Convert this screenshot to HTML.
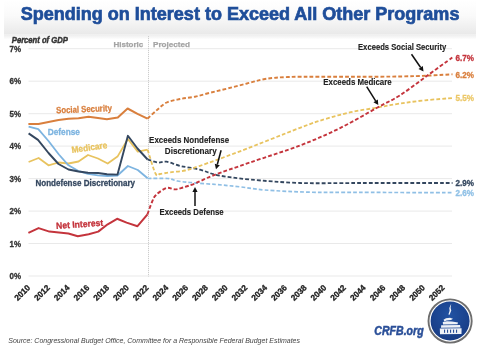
<!DOCTYPE html>
<html><head><meta charset="utf-8"><style>
html,body{margin:0;padding:0;width:480px;height:355px;overflow:hidden;background:#fff}
svg text{font-family:"Liberation Sans",sans-serif}
</style></head><body>
<svg width="480" height="355" viewBox="0 0 480 355" style="position:absolute;left:0;top:0;filter:blur(0.4px)">
<defs>
<linearGradient id="tb" x1="0" y1="0" x2="0" y2="1">
<stop offset="0" stop-color="#ffffff"/><stop offset="0.45" stop-color="#fafafa"/><stop offset="1" stop-color="#e9e9e9"/>
</linearGradient>
<linearGradient id="sh" x1="0" y1="0" x2="0" y2="1">
<stop offset="0" stop-color="#ededed"/><stop offset="1" stop-color="#ffffff"/>
</linearGradient>
<radialGradient id="seal" cx="0.5" cy="0.35" r="0.7">
<stop offset="0" stop-color="#2252a2"/><stop offset="1" stop-color="#173a82"/>
</radialGradient>
</defs>
<rect x="0" y="0" width="480" height="355" fill="#fff"/>
<rect x="4" y="0" width="472" height="34.5" fill="url(#tb)"/>
<rect x="4" y="34.5" width="472" height="5" fill="url(#sh)"/>
<text x="20.8" y="19.8" font-size="18.4" font-weight="bold" font-style="normal" fill="#1f4e9a" text-anchor="start" textLength="438.6" lengthAdjust="spacingAndGlyphs" stroke="#1f4e9a" stroke-width="0.7">Spending on Interest to Exceed All Other Programs</text>
<line x1="28.5" y1="276.0" x2="452" y2="276.0" stroke="#e9e9e9" stroke-width="1"/><line x1="28.5" y1="243.5" x2="452" y2="243.5" stroke="#e9e9e9" stroke-width="1"/><line x1="28.5" y1="211.1" x2="452" y2="211.1" stroke="#e9e9e9" stroke-width="1"/><line x1="28.5" y1="178.6" x2="452" y2="178.6" stroke="#e9e9e9" stroke-width="1"/><line x1="28.5" y1="146.1" x2="452" y2="146.1" stroke="#e9e9e9" stroke-width="1"/><line x1="28.5" y1="113.7" x2="452" y2="113.7" stroke="#e9e9e9" stroke-width="1"/><line x1="28.5" y1="81.2" x2="452" y2="81.2" stroke="#e9e9e9" stroke-width="1"/><line x1="28.5" y1="48.7" x2="452" y2="48.7" stroke="#e9e9e9" stroke-width="1"/>
<line x1="148.5" y1="36" x2="148.5" y2="276.5" stroke="#cdcdcd" stroke-width="1" stroke-dasharray="1.2 0.8"/>
<text x="11.8" y="42.6" font-size="8.6" font-weight="bold" font-style="italic" fill="#333" text-anchor="start" textLength="56" lengthAdjust="spacingAndGlyphs" stroke="#333" stroke-width="0.45">Percent of GDP</text>
<text x="21" y="279.0" text-anchor="end" font-size="8.8" font-weight="bold" fill="#333" stroke="#333" stroke-width="0.3" textLength="11.5" lengthAdjust="spacingAndGlyphs">0%</text><text x="21" y="246.5" text-anchor="end" font-size="8.8" font-weight="bold" fill="#333" stroke="#333" stroke-width="0.3" textLength="11.5" lengthAdjust="spacingAndGlyphs">1%</text><text x="21" y="214.1" text-anchor="end" font-size="8.8" font-weight="bold" fill="#333" stroke="#333" stroke-width="0.3" textLength="11.5" lengthAdjust="spacingAndGlyphs">2%</text><text x="21" y="181.6" text-anchor="end" font-size="8.8" font-weight="bold" fill="#333" stroke="#333" stroke-width="0.3" textLength="11.5" lengthAdjust="spacingAndGlyphs">3%</text><text x="21" y="149.1" text-anchor="end" font-size="8.8" font-weight="bold" fill="#333" stroke="#333" stroke-width="0.3" textLength="11.5" lengthAdjust="spacingAndGlyphs">4%</text><text x="21" y="116.7" text-anchor="end" font-size="8.8" font-weight="bold" fill="#333" stroke="#333" stroke-width="0.3" textLength="11.5" lengthAdjust="spacingAndGlyphs">5%</text><text x="21" y="84.2" text-anchor="end" font-size="8.8" font-weight="bold" fill="#333" stroke="#333" stroke-width="0.3" textLength="11.5" lengthAdjust="spacingAndGlyphs">6%</text><text x="21" y="51.7" text-anchor="end" font-size="8.8" font-weight="bold" fill="#333" stroke="#333" stroke-width="0.3" textLength="11.5" lengthAdjust="spacingAndGlyphs">7%</text>
<text x="113.5" y="46.8" font-size="8" font-weight="bold" font-style="normal" fill="#a4a4a4" text-anchor="start" textLength="29.8" lengthAdjust="spacingAndGlyphs" stroke="#a4a4a4" stroke-width="0.25">Historic</text>
<text x="153" y="46.8" font-size="8" font-weight="bold" font-style="normal" fill="#a4a4a4" text-anchor="start" textLength="37" lengthAdjust="spacingAndGlyphs" stroke="#a4a4a4" stroke-width="0.25">Projected</text>
<text transform="translate(22.45,292.90) rotate(-45)" x="0" y="2.6" text-anchor="middle" font-size="8.3" font-weight="bold" fill="#222" stroke="#222" stroke-width="0.3" textLength="18.3" lengthAdjust="spacingAndGlyphs">2010</text><text transform="translate(42.19,292.90) rotate(-45)" x="0" y="2.6" text-anchor="middle" font-size="8.3" font-weight="bold" fill="#222" stroke="#222" stroke-width="0.3" textLength="18.3" lengthAdjust="spacingAndGlyphs">2012</text><text transform="translate(61.93,292.90) rotate(-45)" x="0" y="2.6" text-anchor="middle" font-size="8.3" font-weight="bold" fill="#222" stroke="#222" stroke-width="0.3" textLength="18.3" lengthAdjust="spacingAndGlyphs">2014</text><text transform="translate(81.67,292.90) rotate(-45)" x="0" y="2.6" text-anchor="middle" font-size="8.3" font-weight="bold" fill="#222" stroke="#222" stroke-width="0.3" textLength="18.3" lengthAdjust="spacingAndGlyphs">2016</text><text transform="translate(101.41,292.90) rotate(-45)" x="0" y="2.6" text-anchor="middle" font-size="8.3" font-weight="bold" fill="#222" stroke="#222" stroke-width="0.3" textLength="18.3" lengthAdjust="spacingAndGlyphs">2018</text><text transform="translate(121.15,292.90) rotate(-45)" x="0" y="2.6" text-anchor="middle" font-size="8.3" font-weight="bold" fill="#222" stroke="#222" stroke-width="0.3" textLength="18.3" lengthAdjust="spacingAndGlyphs">2020</text><text transform="translate(140.89,292.90) rotate(-45)" x="0" y="2.6" text-anchor="middle" font-size="8.3" font-weight="bold" fill="#222" stroke="#222" stroke-width="0.3" textLength="18.3" lengthAdjust="spacingAndGlyphs">2022</text><text transform="translate(160.63,292.90) rotate(-45)" x="0" y="2.6" text-anchor="middle" font-size="8.3" font-weight="bold" fill="#222" stroke="#222" stroke-width="0.3" textLength="18.3" lengthAdjust="spacingAndGlyphs">2024</text><text transform="translate(180.37,292.90) rotate(-45)" x="0" y="2.6" text-anchor="middle" font-size="8.3" font-weight="bold" fill="#222" stroke="#222" stroke-width="0.3" textLength="18.3" lengthAdjust="spacingAndGlyphs">2026</text><text transform="translate(200.11,292.90) rotate(-45)" x="0" y="2.6" text-anchor="middle" font-size="8.3" font-weight="bold" fill="#222" stroke="#222" stroke-width="0.3" textLength="18.3" lengthAdjust="spacingAndGlyphs">2028</text><text transform="translate(219.85,292.90) rotate(-45)" x="0" y="2.6" text-anchor="middle" font-size="8.3" font-weight="bold" fill="#222" stroke="#222" stroke-width="0.3" textLength="18.3" lengthAdjust="spacingAndGlyphs">2030</text><text transform="translate(239.59,292.90) rotate(-45)" x="0" y="2.6" text-anchor="middle" font-size="8.3" font-weight="bold" fill="#222" stroke="#222" stroke-width="0.3" textLength="18.3" lengthAdjust="spacingAndGlyphs">2032</text><text transform="translate(259.33,292.90) rotate(-45)" x="0" y="2.6" text-anchor="middle" font-size="8.3" font-weight="bold" fill="#222" stroke="#222" stroke-width="0.3" textLength="18.3" lengthAdjust="spacingAndGlyphs">2034</text><text transform="translate(279.07,292.90) rotate(-45)" x="0" y="2.6" text-anchor="middle" font-size="8.3" font-weight="bold" fill="#222" stroke="#222" stroke-width="0.3" textLength="18.3" lengthAdjust="spacingAndGlyphs">2036</text><text transform="translate(298.81,292.90) rotate(-45)" x="0" y="2.6" text-anchor="middle" font-size="8.3" font-weight="bold" fill="#222" stroke="#222" stroke-width="0.3" textLength="18.3" lengthAdjust="spacingAndGlyphs">2038</text><text transform="translate(318.55,292.90) rotate(-45)" x="0" y="2.6" text-anchor="middle" font-size="8.3" font-weight="bold" fill="#222" stroke="#222" stroke-width="0.3" textLength="18.3" lengthAdjust="spacingAndGlyphs">2040</text><text transform="translate(338.29,292.90) rotate(-45)" x="0" y="2.6" text-anchor="middle" font-size="8.3" font-weight="bold" fill="#222" stroke="#222" stroke-width="0.3" textLength="18.3" lengthAdjust="spacingAndGlyphs">2042</text><text transform="translate(358.03,292.90) rotate(-45)" x="0" y="2.6" text-anchor="middle" font-size="8.3" font-weight="bold" fill="#222" stroke="#222" stroke-width="0.3" textLength="18.3" lengthAdjust="spacingAndGlyphs">2044</text><text transform="translate(377.77,292.90) rotate(-45)" x="0" y="2.6" text-anchor="middle" font-size="8.3" font-weight="bold" fill="#222" stroke="#222" stroke-width="0.3" textLength="18.3" lengthAdjust="spacingAndGlyphs">2046</text><text transform="translate(397.51,292.90) rotate(-45)" x="0" y="2.6" text-anchor="middle" font-size="8.3" font-weight="bold" fill="#222" stroke="#222" stroke-width="0.3" textLength="18.3" lengthAdjust="spacingAndGlyphs">2048</text><text transform="translate(417.25,292.90) rotate(-45)" x="0" y="2.6" text-anchor="middle" font-size="8.3" font-weight="bold" fill="#222" stroke="#222" stroke-width="0.3" textLength="18.3" lengthAdjust="spacingAndGlyphs">2050</text><text transform="translate(436.99,292.90) rotate(-45)" x="0" y="2.6" text-anchor="middle" font-size="8.3" font-weight="bold" fill="#222" stroke="#222" stroke-width="0.3" textLength="18.3" lengthAdjust="spacingAndGlyphs">2052</text>
<g fill="none" stroke-linejoin="round" stroke-linecap="butt">
<path d="M28.6,162.0 L38.6,158.0 L48.5,165.3 L58.5,162.5 L68.5,163.5 L78.5,161.5 L88.0,155.0 L98.0,158.5 L107.7,163.5 L117.5,156.6 L127.9,139.0 L137.8,151.6 L147.6,149.7" stroke="#e8c35f" stroke-width="1.8"/>
<path d="M28.6,126.6 L38.3,129.2 L48.5,141.0 L58.9,154.5 L68.5,165.3 L78.0,170.8 L88.0,173.8 L98.0,175.3 L107.5,176.0 L117.5,175.5 L127.9,166.0 L137.8,170.0 L147.6,178.3" stroke="#7db4e0" stroke-width="1.8"/>
<path d="M28.6,133.4 L38.0,139.9 L48.5,153.0 L58.5,164.0 L68.5,169.5 L78.5,171.5 L88.0,172.8 L98.0,173.0 L107.0,174.2 L117.5,174.6 L127.9,135.8 L137.5,148.5 L147.6,159.5" stroke="#34475f" stroke-width="1.9"/>
<path d="M28.4,124.0 L38.5,124.0 L48.5,122.0 L58.5,120.0 L68.5,118.8 L78.5,118.3 L88.6,116.8 L98.0,118.0 L106.9,119.2 L117.8,117.5 L127.6,108.5 L137.5,113.9 L147.5,118.7" stroke="#d97f3d" stroke-width="2"/>
<path d="M28.4,232.9 L38.6,228.1 L49.4,231.6 L58.9,232.6 L68.4,233.5 L77.8,236.2 L88.7,234.3 L98.2,231.6 L107.7,224.3 L117.1,218.8 L126.6,222.6 L137.5,226.2 L147.5,214.3" stroke="#c4343c" stroke-width="2"/>
<path d="M147.6,178.5 C150.9,178.5 162.5,178.1 167.5,178.5 C172.5,178.9 173.8,180.3 177.5,181.0 C181.2,181.7 183.6,181.9 190.0,182.5 C196.4,183.1 207.7,183.8 216.0,184.5 C224.3,185.2 231.8,185.9 240.0,186.8 C248.2,187.7 253.3,189.1 265.0,190.0 C276.7,190.9 294.2,191.8 310.0,192.2 C325.8,192.6 336.2,192.3 360.0,192.4 C383.8,192.5 437.1,192.6 452.5,192.6" stroke="#8fbfe5" stroke-width="1.7" stroke-dasharray="3.8 2.1"/>
<path d="M147.6,159.5 C149.3,160.0 154.5,162.1 157.7,162.5 C160.9,162.9 162.8,161.1 166.6,161.7 C170.4,162.3 174.9,164.7 180.5,166.0 C186.1,167.3 193.8,168.1 200.0,169.7 C206.2,171.2 209.7,173.7 218.0,175.3 C226.3,176.9 236.3,178.2 250.0,179.5 C263.7,180.8 281.7,182.4 300.0,183.0 C318.3,183.6 334.6,183.0 360.0,183.0 C385.4,183.0 437.1,183.0 452.5,183.0" stroke="#34475f" stroke-width="1.8" stroke-dasharray="3.8 2.1"/>
<path d="M147.6,149.7 C148.9,153.7 153.4,169.4 155.5,173.5 C157.6,177.6 157.6,174.2 160.0,174.0 C162.4,173.8 165.8,172.9 170.0,172.3 C174.2,171.7 180.0,171.6 185.0,170.5 C190.0,169.4 190.8,169.0 200.0,165.8 C209.2,162.6 223.3,157.6 240.0,151.3 C256.7,145.0 285.8,133.2 300.0,127.8 C314.2,122.4 316.9,121.6 325.4,119.0 C333.9,116.4 342.1,114.1 350.8,112.2 C359.5,110.3 369.3,109.0 377.5,107.5 C385.7,106.0 392.1,104.7 400.0,103.5 C407.9,102.3 416.2,101.2 425.0,100.3 C433.8,99.4 447.9,98.4 452.5,98.0" stroke="#e8c35f" stroke-width="1.8" stroke-dasharray="3.8 2.1"/>
<path d="M147.5,118.7 C149.1,117.2 153.8,112.7 157.0,110.0 C160.2,107.3 162.9,104.3 166.7,102.5 C170.5,100.7 175.3,100.0 180.0,99.0 C184.7,98.0 189.8,97.8 195.0,96.7 C200.2,95.6 205.4,93.9 211.0,92.5 C216.6,91.1 222.3,89.8 228.3,88.3 C234.3,86.8 240.9,85.0 247.0,83.5 C253.1,82.0 258.2,80.1 265.0,79.0 C271.8,77.9 278.8,77.4 288.0,77.0 C297.2,76.6 308.0,76.8 320.0,76.7 C332.0,76.7 346.7,76.7 360.0,76.7 C373.3,76.7 388.3,76.7 400.0,76.5 C411.7,76.3 421.2,75.9 430.0,75.5 C438.8,75.1 448.8,74.5 452.5,74.3" stroke="#d97f3d" stroke-width="1.9" stroke-dasharray="3.8 2.1"/>
<path d="M147.5,214.3 C148.2,212.2 150.6,205.2 152.0,202.0 C153.4,198.8 153.6,197.3 156.0,195.0 C158.4,192.7 163.3,188.9 166.5,188.0 C169.7,187.1 172.2,189.5 175.0,189.4 C177.8,189.3 179.7,188.5 183.0,187.5 C186.3,186.5 189.9,185.5 195.0,183.5 C200.1,181.5 204.3,178.8 213.5,175.3 C222.7,171.8 235.6,167.5 250.0,162.5 C264.4,157.5 285.0,151.2 300.0,145.5 C315.0,139.8 327.1,134.4 340.0,128.1 C352.9,121.8 367.5,113.0 377.5,107.5 C387.5,102.0 391.9,100.5 400.0,95.3 C408.1,90.1 417.3,82.9 426.0,76.6 C434.7,70.3 447.9,60.7 452.3,57.5" stroke="#c4343c" stroke-width="1.9" stroke-dasharray="3.8 2.1"/>
</g>
<text x="56.3" y="113.3" font-size="9" font-weight="bold" font-style="normal" fill="#d97f3d" text-anchor="start" textLength="55.7" lengthAdjust="spacingAndGlyphs" transform="rotate(-2.3 56.3 113.3)" stroke="#d97f3d" stroke-width="0.3">Social Security</text>
<text x="47.7" y="134.8" font-size="9" font-weight="bold" font-style="normal" fill="#7db4e0" text-anchor="start" textLength="32.3" lengthAdjust="spacingAndGlyphs" stroke="#7db4e0" stroke-width="0.3">Defense</text>
<text x="72" y="153" font-size="9" font-weight="bold" font-style="normal" fill="#e8c35f" text-anchor="start" textLength="36" lengthAdjust="spacingAndGlyphs" transform="rotate(-8 72 153)" stroke="#e8c35f" stroke-width="0.3">Medicare</text>
<text x="35.5" y="185.6" font-size="9" font-weight="bold" font-style="normal" fill="#34475f" text-anchor="start" textLength="99.5" lengthAdjust="spacingAndGlyphs" stroke="#34475f" stroke-width="0.3">Nondefense Discretionary</text>
<text x="56.2" y="229" font-size="9" font-weight="bold" font-style="normal" fill="#c4343c" text-anchor="start" textLength="47.4" lengthAdjust="spacingAndGlyphs" transform="rotate(-4 56.2 229)" stroke="#c4343c" stroke-width="0.3">Net Interest</text>
<text x="358" y="50.2" font-size="8.6" font-weight="bold" font-style="normal" fill="#222" text-anchor="start" textLength="88.2" lengthAdjust="spacingAndGlyphs" stroke="#222" stroke-width="0.12">Exceeds Social Security</text>
<line x1="411.5" y1="54.2" x2="420.66" y2="67.48" stroke="#111" stroke-width="1.5"/><polygon points="423.5,71.6 418.52,68.96 422.80,66.01" fill="#111"/>
<text x="323.3" y="85.2" font-size="8.6" font-weight="bold" font-style="normal" fill="#222" text-anchor="start" textLength="68.4" lengthAdjust="spacingAndGlyphs" stroke="#222" stroke-width="0.12">Exceeds Medicare</text>
<line x1="366.7" y1="86.7" x2="375.62" y2="100.78" stroke="#111" stroke-width="1.5"/><polygon points="378.3,105 373.43,102.17 377.82,99.38" fill="#111"/>
<text x="189.1" y="143.2" font-size="8.6" font-weight="bold" font-style="normal" fill="#222" text-anchor="middle" textLength="80" lengthAdjust="spacingAndGlyphs" stroke="#222" stroke-width="0.12">Exceeds Nondefense</text>
<text x="190.8" y="153.8" font-size="8.6" font-weight="bold" font-style="normal" fill="#222" text-anchor="middle" textLength="52" lengthAdjust="spacingAndGlyphs" stroke="#222" stroke-width="0.12">Discretionary</text>
<line x1="221.1" y1="150.3" x2="217.30" y2="164.47" stroke="#111" stroke-width="1.5"/><polygon points="216,169.3 214.79,163.80 219.81,165.14" fill="#111"/>
<text x="159.5" y="214.6" font-size="8.6" font-weight="bold" font-style="normal" fill="#222" text-anchor="start" textLength="64.2" lengthAdjust="spacingAndGlyphs" stroke="#222" stroke-width="0.12">Exceeds Defense</text>
<line x1="195" y1="206" x2="195.00" y2="192.10" stroke="#111" stroke-width="1.5"/><polygon points="195,187.1 197.60,192.10 192.40,192.10" fill="#111"/>
<text x="455.5" y="60.5" font-size="9" font-weight="bold" font-style="normal" fill="#c4343c" text-anchor="start" textLength="18.5" lengthAdjust="spacingAndGlyphs" stroke="#c4343c" stroke-width="0.3">6.7%</text>
<text x="455.5" y="78" font-size="9" font-weight="bold" font-style="normal" fill="#d97f3d" text-anchor="start" textLength="18.5" lengthAdjust="spacingAndGlyphs" stroke="#d97f3d" stroke-width="0.3">6.2%</text>
<text x="455.5" y="101" font-size="9" font-weight="bold" font-style="normal" fill="#ecc868" text-anchor="start" textLength="18.5" lengthAdjust="spacingAndGlyphs" stroke="#ecc868" stroke-width="0.3">5.5%</text>
<text x="455.5" y="186" font-size="9" font-weight="bold" font-style="normal" fill="#34475f" text-anchor="start" textLength="18.5" lengthAdjust="spacingAndGlyphs" stroke="#34475f" stroke-width="0.3">2.9%</text>
<text x="455.5" y="195.5" font-size="9" font-weight="bold" font-style="normal" fill="#8fc0e6" text-anchor="start" textLength="18.5" lengthAdjust="spacingAndGlyphs" stroke="#8fc0e6" stroke-width="0.3">2.6%</text>
<text x="8.3" y="342.5" font-size="7.2" font-weight="normal" font-style="italic" fill="#444" text-anchor="start" textLength="291.7" lengthAdjust="spacingAndGlyphs">Source: Congressional Budget Office, Committee for a Responsible Federal Budget Estimates</text>
<text x="374.3" y="334.5" font-size="12" font-weight="bold" font-style="italic" fill="#2a4f98" text-anchor="start" textLength="49.3" lengthAdjust="spacingAndGlyphs" stroke="#2a4f98" stroke-width="0.5">CRFB.org</text>
<circle cx="450.1" cy="321" r="21.6" fill="#fff" stroke="#6e6e6e" stroke-width="1.9"/>
<circle cx="450.1" cy="321" r="19.5" fill="url(#seal)"/>
<g fill="#eef1f7">
<path d="M451.2,303.8 L450.6,308 L451.3,310.5 L449.6,314.8 L448.4,314.6 L449.6,310.8 L449.3,308 Z"/>
<path d="M443.5,319.8 L446,318.2 L450,317.8 L453,318.8 L451,320 L446.5,320.6 L444.5,321.5 Z"/>
<path d="M442.8,322 L447,321.2 L452,321.6 L458,322.6 L457.5,324.2 L443,324.5 Z"/>
<path d="M441.2,325.3 L460,325 L460.5,327.5 L441,327.8 Z"/>
<path d="M439.8,328.4 L461.6,328.2 L461.5,334 L440,334.2 Z"/>
</g>
<g fill="#2a4f98">
<rect x="444" y="329.6" width="1.1" height="3.2"/><rect x="447" y="329.6" width="1.1" height="3.2"/><rect x="450" y="329.6" width="1.1" height="3.2"/><rect x="453" y="329.6" width="1.1" height="3.2"/><rect x="456" y="329.6" width="1.1" height="3.2"/>
</g>
</svg>
</body></html>
